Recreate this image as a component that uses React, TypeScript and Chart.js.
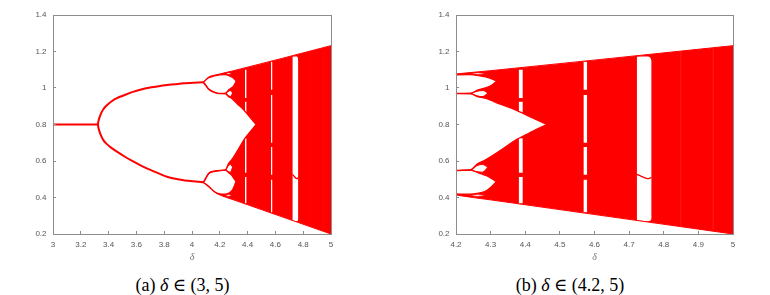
import { useEffect, useRef } from 'react';
import { Chart, registerables } from 'chart.js';

Chart.register(...registerables);

type Pt = [number, number];
type Band = [number, number, number, number]; // delta from, delta to, value top, value bottom

// ---- tick labels ----
const xTicksA = [3, 3.2, 3.4, 3.6, 3.8, 4, 4.2, 4.4, 4.6, 4.8, 5];
const xTicksB = [4.2, 4.3, 4.4, 4.5, 4.6, 4.7, 4.8, 4.9, 5];
const yTicks = [0.2, 0.4, 0.6, 0.8, 1, 1.2, 1.4];

// ---- stable branches ----
const fixedPoint: Pt[] = [[3, 0.8], [3.324, 0.8]];
const period2Upper: Pt[] = [
  [4.08, 1.031], [4.01, 1.029], [3.94, 1.026], [3.88, 1.021], [3.82, 1.016], [3.76, 1.01], [3.7, 1.003],
  [3.64, 0.993], [3.58, 0.98], [3.52, 0.963], [3.46, 0.944], [3.42, 0.926], [3.38, 0.9], [3.36, 0.881],
  [3.345, 0.86], [3.333, 0.835], [3.326, 0.815],
];
const period2Lower: Pt[] = [
  [3.326, 0.785], [3.333, 0.765], [3.345, 0.74], [3.36, 0.717], [3.38, 0.698], [3.42, 0.672], [3.46, 0.651],
  [3.52, 0.622], [3.58, 0.596], [3.64, 0.572], [3.7, 0.551], [3.76, 0.532], [3.82, 0.514], [3.88, 0.503],
  [3.94, 0.495], [4.01, 0.489], [4.08, 0.483],
];
const bifurcationPoint: Pt[] = [[3.324, 0.8]];

// ---- outer envelope of the attractor ----
const chaosTop: Pt[] = [[4.08, 1.031], [4.12, 1.06], [4.16, 1.07], [4.2, 1.077], [4.25, 1.086], [4.3, 1.095], [5, 1.232]];
const chaosBottom: Pt[] = [[4.08, 0.483], [4.12, 0.458], [4.16, 0.43], [4.2, 0.414], [4.3, 0.387], [5, 0.2]];

// ---- white regions inside the envelope ----
const upperTongueTop: Pt[] = [[4.08, 1.031], [4.12, 1.056], [4.16, 1.066], [4.2, 1.072], [4.24, 1.073], [4.27, 1.066], [4.295, 1.056], [4.318, 1.038]];
const upperTongueBottom: Pt[] = [[4.08, 1.031], [4.12, 0.995], [4.165, 0.976], [4.2, 0.971], [4.243, 0.972], [4.262, 0.988], [4.28, 0.998], [4.3, 1.012], [4.318, 1.038]];
const lensTop: Pt[] = [[4.07, 1.031], [4.08, 1.031], [4.12, 0.993], [4.165, 0.974], [4.2, 0.969], [4.243, 0.968], [4.262, 0.953], [4.284, 0.944], [4.33, 0.91], [4.37, 0.882], [4.41, 0.846], [4.462, 0.8]];
const lensBottom: Pt[] = [[4.07, 0.483], [4.08, 0.483], [4.12, 0.533], [4.165, 0.546], [4.2, 0.549], [4.243, 0.552], [4.262, 0.585], [4.284, 0.605], [4.33, 0.66], [4.37, 0.712], [4.41, 0.752], [4.462, 0.8]];
const lowerTongueTop: Pt[] = [[4.08, 0.483], [4.12, 0.53], [4.165, 0.543], [4.2, 0.547], [4.243, 0.55], [4.265, 0.535], [4.29, 0.518], [4.317, 0.487]];
const lowerTongueBottom: Pt[] = [[4.08, 0.483], [4.12, 0.462], [4.16, 0.433], [4.2, 0.42], [4.24, 0.418], [4.265, 0.424], [4.29, 0.44], [4.317, 0.487]];

// ---- period-8 bubbles ----
const upperBubbleTop: Pt[] = [[4.243, 0.97], [4.26, 0.982], [4.278, 0.986], [4.293, 0.972]];
const upperBubbleBottom: Pt[] = [[4.243, 0.97], [4.26, 0.958], [4.278, 0.953], [4.293, 0.972]];
const lowerBubbleTop: Pt[] = [[4.243, 0.551], [4.258, 0.572], [4.276, 0.582], [4.293, 0.566]];
const lowerBubbleBottom: Pt[] = [[4.243, 0.551], [4.258, 0.542], [4.276, 0.538], [4.293, 0.566]];
const highBubbleTop: Pt[] = [[4.24, 1.077], [4.262, 1.084], [4.288, 1.08]];
const highBubbleBottom: Pt[] = [[4.24, 1.077], [4.262, 1.074], [4.288, 1.08]];
const lowBubbleTop: Pt[] = [[4.24, 0.413], [4.262, 0.418], [4.288, 0.412]];
const lowBubbleBottom: Pt[] = [[4.24, 0.413], [4.262, 0.406], [4.288, 0.412]];

// ---- periodic windows ----
const windowStripes: Band[] = [
  [4.381, 4.393, 1.1, 0.945], [4.381, 4.393, 0.925, 0.86], [4.381, 4.393, 0.725, 0.535], [4.381, 4.393, 0.512, 0.368],
  [4.568, 4.579, 1.142, 0.99], [4.568, 4.579, 0.962, 0.7], [4.568, 4.579, 0.677, 0.525], [4.568, 4.579, 0.497, 0.319],
];
const faintStripes: Band[] = [[4.848, 4.851, 1.2, 0.245], [4.941, 4.944, 1.218, 0.22]];
const bigWindowTop: Pt[] = [[4.722, 1.171], [4.753, 1.172], [4.761, 1.166], [4.765, 1.15]];
const bigWindowBottom: Pt[] = [[4.722, 0.277], [4.753, 0.27], [4.761, 0.272], [4.765, 0.285]];
const windowBranch: Pt[] = [[4.722, 0.527], [4.735, 0.516], [4.748, 0.506], [4.756, 0.503], [4.765, 0.51]];

const RED = '#ff0000';
const WHITE = '#ffffff';
const AXIS = '#8c8c8c';
const LABEL = '#555555';

const toXY = (a: Pt[]) => a.map(([x, y]) => ({ x, y }));

function buildDatasets() {
  const ds: any[] = [];
  const polygon = (top: Pt[], bottom: Pt[], fill: string, stroke: string, width: number, order: number) => {
    const common = {
      borderColor: stroke,
      borderWidth: width,
      pointRadius: 0,
      pointHoverRadius: 0,
      cubicInterpolationMode: 'monotone',
      order,
    };
    ds.push({ ...common, data: toXY(top), fill: '+1', backgroundColor: fill });
    ds.push({ ...common, data: toXY(bottom), fill: false, backgroundColor: fill });
  };
  const band = (b: Band, fill: string, order: number) =>
    polygon([[b[0], b[2]], [b[1], b[2]]], [[b[0], b[3]], [b[1], b[3]]], fill, 'transparent', 0, order);

  polygon(chaosTop, chaosBottom, RED, RED, 1, 6);
  polygon(upperTongueTop, upperTongueBottom, WHITE, RED, 1.3, 5);
  polygon(lensTop, lensBottom, WHITE, RED, 1.3, 5);
  polygon(lowerTongueTop, lowerTongueBottom, WHITE, RED, 1.3, 5);
  polygon(upperBubbleTop, upperBubbleBottom, WHITE, RED, 1.1, 4);
  polygon(lowerBubbleTop, lowerBubbleBottom, WHITE, RED, 1.1, 4);
  polygon(highBubbleTop, highBubbleBottom, WHITE, RED, 0.8, 4);
  polygon(lowBubbleTop, lowBubbleBottom, WHITE, RED, 0.8, 4);
  windowStripes.forEach((b) => band(b, WHITE, 3));
  polygon(bigWindowTop, bigWindowBottom, WHITE, 'transparent', 0, 3);
  faintStripes.forEach((b) => band(b, 'rgba(255,255,255,0.2)', 2));

  ds.push({ data: toXY(windowBranch), borderColor: RED, borderWidth: 1.3, pointRadius: 0, fill: false, tension: 0.3, order: 1 });
  ds.push({ data: toXY(fixedPoint), borderColor: RED, borderWidth: 2, pointRadius: 0, fill: false, order: 1 });
  // period-2 branch traced through the bifurcation point so the fork is one smooth curve
  ds.push({
    data: toXY([...period2Upper, ...bifurcationPoint, ...period2Lower]),
    borderColor: RED,
    borderWidth: 2,
    pointRadius: 0,
    fill: false,
    tension: 0.25,
    order: 1,
  });
  return ds;
}

const fmt = (v: any) => String(Math.round(Number(v) * 100) / 100);

type PanelProps = {
  left: number;
  xMin: number;
  xMax: number;
  xTicks: number[];
  yAxisWidth: number;
  padRight: number;
};

function Panel({ left, xMin, xMax, xTicks, yAxisWidth, padRight }: PanelProps) {
  const ref = useRef<HTMLCanvasElement | null>(null);
  useEffect(() => {
    if (!ref.current) return;
    const tickFont = { family: 'Liberation Sans, Arial, sans-serif', size: 8 };
    const chart = new Chart(ref.current, {
      type: 'line',
      data: { datasets: buildDatasets() },
      options: {
        responsive: false,
        animation: false,
        events: [],
        layout: { padding: { top: 15, right: padRight, left: 0, bottom: 0 } },
        plugins: {
          legend: { display: false },
          tooltip: { enabled: false },
          filler: { propagate: false, drawTime: 'beforeDatasetsDraw' },
        },
        scales: {
          x: {
            type: 'linear',
            min: xMin,
            max: xMax,
            afterBuildTicks: (s: any) => {
              s.ticks = xTicks.map((value) => ({ value }));
            },
            afterFit: (s: any) => {
              s.height = 36;
            },
            ticks: { callback: fmt, font: tickFont, color: LABEL, padding: 9, autoSkip: false, maxRotation: 0 },
            grid: { display: true, drawOnChartArea: false, drawTicks: true, tickLength: -3, color: AXIS, z: 1 },
            border: { display: true, color: AXIS, width: 1, z: 1 },
            title: {
              display: true,
              text: 'δ',
              color: '#777777',
              font: { family: 'Liberation Serif, serif', size: 10, style: 'italic' },
              padding: { top: 0, bottom: 7 },
            },
          },
          y: {
            type: 'linear',
            min: 0.2,
            max: 1.4,
            afterBuildTicks: (s: any) => {
              s.ticks = yTicks.map((value) => ({ value }));
            },
            afterFit: (s: any) => {
              s.width = yAxisWidth;
            },
            ticks: { callback: fmt, font: tickFont, color: LABEL, padding: 9.5, autoSkip: false },
            grid: { display: true, drawOnChartArea: false, drawTicks: true, tickLength: -3, color: AXIS, z: 1 },
            border: { display: true, color: AXIS, width: 1, z: 1 },
          },
          x2: {
            type: 'linear',
            position: 'top',
            min: xMin,
            max: xMax,
            afterFit: (s: any) => {
              s.height = 0;
            },
            ticks: { display: false },
            grid: { display: true, drawOnChartArea: false, drawTicks: false },
            border: { display: true, color: AXIS, width: 1, z: 1 },
          },
          y2: {
            type: 'linear',
            position: 'right',
            min: 0.2,
            max: 1.4,
            afterFit: (s: any) => {
              s.width = 0;
            },
            ticks: { display: false },
            grid: { display: true, drawOnChartArea: false, drawTicks: false },
            border: { display: true, color: AXIS, width: 1, z: 1 },
          },
        },
      } as any,
    });
    return () => chart.destroy();
  }, [xMin, xMax, xTicks, yAxisWidth, padRight]);
  return (
    <canvas
      ref={ref}
      width={385}
      height={270}
      style={{ position: 'absolute', left, top: 0, width: 385, height: 270, display: 'block' }}
    />
  );
}

const captionStyle = (center: number): any => ({
  position: 'absolute',
  left: center - 150,
  top: 275,
  width: 300,
  textAlign: 'center',
  fontFamily: '"Liberation Serif", "DejaVu Serif", serif',
  fontSize: 18,
  lineHeight: '20px',
  color: '#000',
  whiteSpace: 'nowrap',
});

export default function App() {
  return (
    <div style={{ position: 'absolute', left: 0, top: 0, width: 770, height: 295, background: '#fff', overflow: 'hidden' }}>
      <Panel left={0} xMin={3} xMax={5} xTicks={xTicksA} yAxisWidth={53} padRight={54} />
      <Panel left={385} xMin={4.2} xMax={5} xTicks={xTicksB} yAxisWidth={71} padRight={37} />
      <div style={captionStyle(182.5)}>
        (a) <i>δ</i> ∈ (3, 5)
      </div>
      <div style={captionStyle(570)}>
        (b) <i>δ</i> ∈ (4.2, 5)
      </div>
    </div>
  );
}
